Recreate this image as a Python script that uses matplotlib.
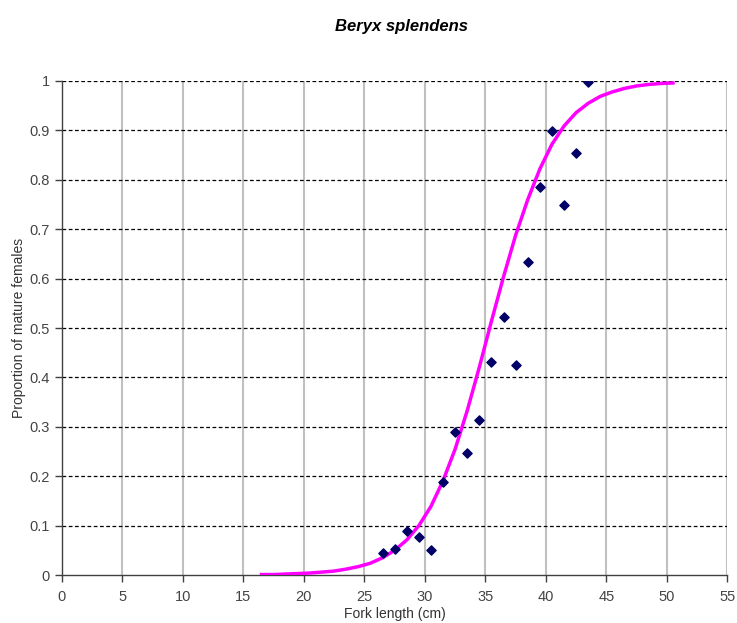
import matplotlib.pyplot as plt
import numpy as np

plt.rcParams['font.family'] = ['Liberation Sans', 'DejaVu Sans']

obs_len = [26.5, 27.5, 28.5, 29.5, 30.5, 31.5, 32.5, 33.5, 34.5, 35.5,
           36.5, 37.5, 38.5, 39.5, 40.5, 41.5, 42.5, 43.5]
obs_prop = [0.044, 0.052, 0.089, 0.077, 0.050, 0.188, 0.289, 0.248, 0.313, 0.432,
            0.523, 0.426, 0.634, 0.786, 0.899, 0.749, 0.855, 0.998]

# fitted ogive
fit_len = [16.5, 17.5, 18.5, 19.5, 20.5, 21.5, 22.5, 23.5, 24.5, 25.5,
           26.5, 27.5, 28.5, 29.5, 30.5, 31.5, 32.5, 33.5, 34.5, 35.5,
           36.5, 37.5, 38.5, 39.5, 40.5, 41.5, 42.5, 43.5, 44.5, 45.5,
           46.5, 47.5, 48.5, 49.5, 50.5]
fit_prop = [0.001, 0.001, 0.002, 0.003, 0.004, 0.006, 0.008, 0.012, 0.017, 0.024,
            0.035, 0.050, 0.071, 0.100, 0.139, 0.191, 0.255, 0.333, 0.421, 0.514,
            0.604, 0.688, 0.760, 0.822, 0.872, 0.909, 0.936, 0.955, 0.969, 0.978,
            0.985, 0.990, 0.993, 0.995, 0.996]

xticks = np.arange(0, 56, 5)
yticks = np.round(np.arange(0, 1.01, 0.1), 1)
ytick_labels = ['0', '0.1', '0.2', '0.3', '0.4', '0.5', '0.6', '0.7', '0.8', '0.9', '1']

fig = plt.figure(figsize=(7.37, 6.23), dpi=100)
ax = fig.add_axes([0.084, 0.077, 0.903, 0.793])

ax.set_xlim(0, 55)
ax.set_ylim(0, 1)
ax.set_xticks(xticks)
ax.set_yticks(yticks)
ax.set_yticklabels(ytick_labels)

# grid: gray solid verticals, black dashed horizontals
for x in xticks[1:]:
    ax.axvline(x, color='#c0c0c0', lw=1.5, zorder=1)
for y in yticks[1:]:
    ax.axhline(y, color='black', lw=0.9, ls=(0, (3, 2)), zorder=1)

ax.plot(fit_len, fit_prop, color='#ff00ff', lw=2.5, zorder=3)
ax.scatter(obs_len, obs_prop, marker='D', s=22, color='#000066', zorder=4)

for s in ['top', 'right']:
    ax.spines[s].set_visible(False)
for s in ['left', 'bottom']:
    ax.spines[s].set_color('#404040')
    ax.spines[s].set_linewidth(1.0)

ax.tick_params(axis='both', colors='#404040', labelcolor='#444444', labelsize=10.5,
               length=5, width=1)
ax.tick_params(axis='x', pad=6)

ax.set_xlabel('Fork length (cm)', fontsize=10, color='#333333', labelpad=2)
ax.set_ylabel('Proportion of mature females', fontsize=10, color='#333333', labelpad=3)
ax.set_title('Beryx splendens', fontsize=12, fontweight='bold', fontstyle='italic',
             pad=36, x=0.51)

fig.savefig('out.png', dpi=100)
